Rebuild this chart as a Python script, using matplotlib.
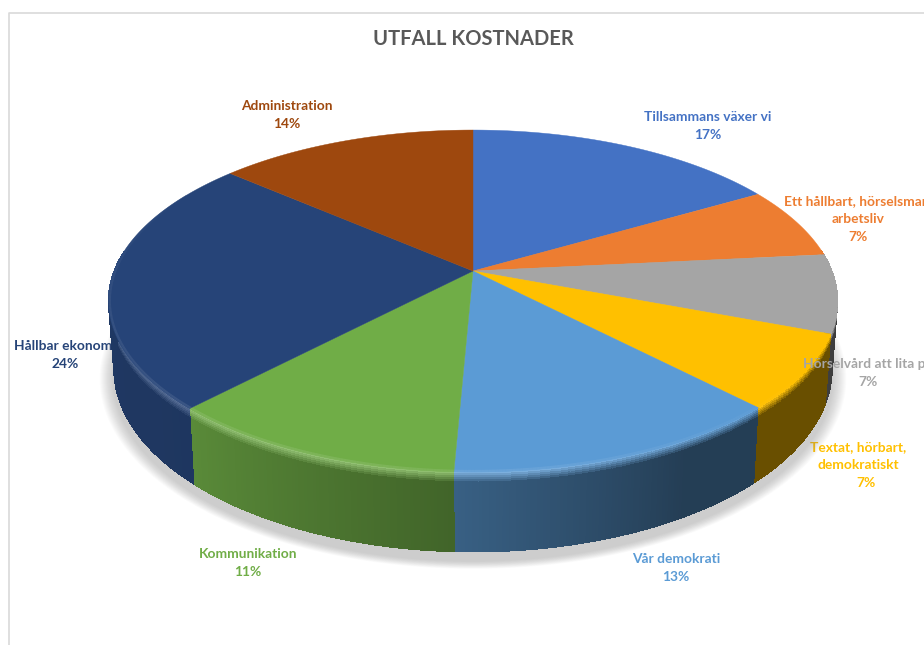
import numpy as np
import matplotlib
matplotlib.use("Agg")
import matplotlib.pyplot as plt
from matplotlib.collections import PolyCollection
from matplotlib.colors import to_rgb

categories = ["Tillsammans växer vi", "Ett hållbart, hörselsmart\narbetsliv", "Hörselvård att lita på",
              "Textat, hörbart,\ndemokratiskt", "Vår demokrati", "Kommunikation", "Hållbar ekonomi", "Administration"]
values = [16.6, 6.8, 7.4, 7.0, 12.9, 11.4, 24.3, 13.6]
colors = ["#4472c4", "#ed7d31", "#a5a5a5", "#ffc000", "#5b9bd5", "#70ad47", "#264478", "#9e480e"]

# wall brightness at start / end of each slice
wall_a = [0.5, 0.5, 0.33, 0.41, 0.40, 0.58, 0.80, 0.6]
wall_b = [0.5, 0.5, 0.38, 0.41, 0.62, 0.80, 0.85, 0.6]

label_x = [708, 858, 868, 858, 676, 248, 65, 287]
label_y = [116, 200, 363, 446, 558, 553, 345, 105]
pct_x = [708, 858, 868, 866, 676, 248, 65, 287]

plt.rcParams['font.family'] = ['Lato', 'DejaVu Sans']

cx, cy = 473, 271
A, B, k = 359, 165.7, 0.1754
depth = 66


def project(u, v, down=0.0):
    w = 1 + k * v
    x = cx + A * u / w * (1 - 0.015 * down)
    y = cy - B * v / w + depth * down / w
    return x, y


def mix(c1, c2, t):
    return tuple((1 - t) * a + t * b for a, b in zip(c1, c2))


fig = plt.figure(figsize=(9.24, 6.45), dpi=100)
ax = fig.add_axes([0, 0, 1, 1])
ax.set_xlim(0, 924)
ax.set_ylim(645, 0)
ax.axis('off')

# chart frame, cut off by the picture on the right and the bottom
ax.plot([8.5, 8.5, 924], [645, 12.5, 12.5], color="#d9d9d9", lw=1.2, zorder=1)

ax.text(473, 39, "UTFALL KOSTNADER", ha='center', va='center', fontsize=14.5, fontweight='bold', color="#595959", zorder=6)

# labels under the pie, only Hörselvård sits on top of it
for i, name in enumerate(categories):
    z = 6 if i == 2 else 2
    n = name.count("\n") + 1
    ax.text(label_x[i], label_y[i] + 1 + 9 * (n - 1), name, ha='center', va='center', fontsize=9.9,
            fontweight='bold', color=colors[i], zorder=z, linespacing=1.6)
    ax.text(pct_x[i], label_y[i] + 1 + 18 * n, f"{round(values[i])}%", ha='center', va='center', fontsize=9.9,
            fontweight='bold', color=colors[i], zorder=z)

edges = np.cumsum([0] + values) / 100 * 2 * np.pi

# soft shadow
t = np.linspace(0, 2 * np.pi, 300)
sx, sy = project(np.sin(t), np.cos(t), 1.0)
mx, my = sx.mean(), sy.mean()
for i in range(14):
    grow = 1 + (14 - i) * 0.0028
    ax.fill(mx + (sx - mx) * grow, my + 9 + (sy - my) * grow, color="#808080", alpha=0.03, lw=0, zorder=3)

# side walls
polys, fills = [], []
stops = [0, 0.025, 0.05, 0.075, 0.10, 0.125, 0.15, 1.0]
for i in range(len(values)):
    base = to_rgb(colors[i])
    ang = np.linspace(edges[i], edges[i + 1], max(int(values[i] * 8), 4))
    for a0, a1 in zip(ang[:-1], ang[1:]):
        u0, v0, u1, v1 = np.sin(a0), np.cos(a0), np.sin(a1), np.cos(a1)
        if min(v0, v1) > 0.12:
            continue
        f = ((a0 + a1) / 2 - edges[i]) / (edges[i + 1] - edges[i])
        if i == 4:
            f = np.clip((f - 0.3) / 0.7, 0, 1)
        shade = wall_a[i] + (wall_b[i] - wall_a[i]) * f
        wall = tuple(c * shade for c in base)
        light = np.clip((-0.5 * u0 - 0.85 * v0), 0, 1)
        hi = mix(base, (1, 1, 1), 0.25 * light)
        for d0, d1 in zip(stops[:-1], stops[1:]):
            x00, y00 = project(u0, v0, d0)
            x10, y10 = project(u1, v1, d0)
            x11, y11 = project(u1, v1, d1)
            x01, y01 = project(u0, v0, d1)
            polys.append([(x00, y00), (x10, y10), (x11, y11), (x01, y01)])
            if d1 >= 1:
                fills.append(wall)
            else:
                fills.append(mix(hi, wall, d0 / 0.125))
ax.add_collection(PolyCollection(polys, facecolors=fills, edgecolors='none', linewidths=0,
                                 antialiaseds=False, zorder=4))

# top surface
for i in range(len(values)):
    base = to_rgb(colors[i])
    ang = np.linspace(edges[i], edges[i + 1], max(int(values[i] * 8), 4))
    px, py = project(np.sin(ang), np.cos(ang))
    ax.fill(np.r_[cx, px], np.r_[cy, py], color=colors[i], lw=0.3, zorder=5)
    # bright rim at the edge, on the lower left
    for a0, a1 in zip(ang[:-1], ang[1:]):
        light = np.clip(-0.5 * np.sin(a0) - 0.85 * np.cos(a0), 0, 1)
        if light <= 0.02:
            continue
        qx, qy = project(0.996 * np.sin([a0, a1]), 0.996 * np.cos([a0, a1]))
        ax.plot(qx, qy, color=mix(base, (1, 1, 1), 0.25 * light), alpha=0.4, lw=1.6,
                solid_capstyle='butt', zorder=5)

fig.savefig("out.png", dpi=100)
